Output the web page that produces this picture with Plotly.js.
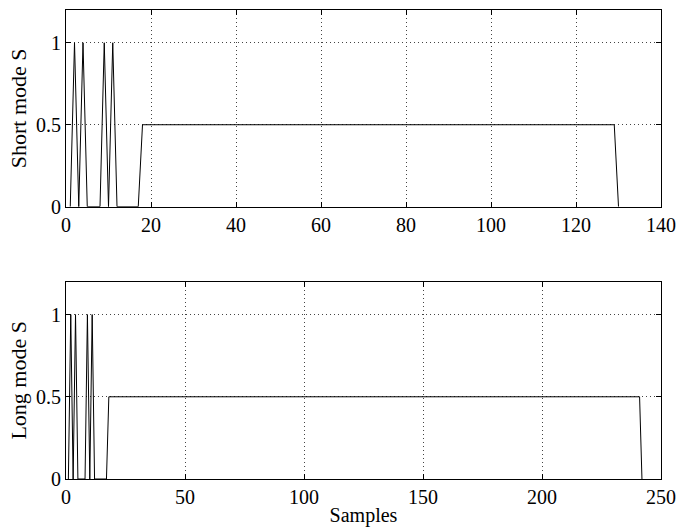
<!DOCTYPE html>
<html>
<head>
<meta charset="utf-8">
<script src="https://cdn.plot.ly/plotly-3.0.1.min.js"></script>
<style>html,body{margin:0;padding:0;background:#fff;}#chart{width:677px;height:529px;}</style>
</head>
<body>
<div id="chart"></div>
<script>
// Breakpoints of the piecewise-linear sample traces
var shortX = [1, 2, 3, 4, 5, 8, 9, 10, 11, 12, 17, 18, 129, 130];
var shortS = [0, 1, 0, 1, 0, 0, 1, 0, 1, 0, 0, 0.5, 0.5, 0];
var longX  = [1, 2, 3, 4, 5, 8, 9, 10, 11, 12, 17, 18, 241, 242];
var longS  = [0, 1, 0, 1, 0, 0, 1, 0, 1, 0, 0, 0.5, 0.5, 0];
var shortXTicks = [0, 20, 40, 60, 80, 100, 120, 140];
var longXTicks  = [0, 50, 100, 150, 200, 250];
var yTicks = [0, 0.5, 1];
var yTickText = ['0', '0.5', '1'];

var family = 'Liberation Serif, Times New Roman, serif';
var tickFont = {family: family, size: 20, color: '#000'};
var yTitleFont = {family: family, size: 22, color: '#000'};
var xTitleFont = {family: family, size: 20, color: '#000'};

function ax(extra) {
  var base = {
    showline: true, linecolor: '#000', linewidth: 1, mirror: 'ticks',
    ticks: 'inside', ticklen: 5, tickcolor: '#000', tickwidth: 1,
    showgrid: true, gridcolor: '#444', gridwidth: 1, griddash: '1px,3px',
    zeroline: false, tickfont: tickFont, fixedrange: true, ticklabelstandoff: 0
  };
  for (var k in extra) base[k] = extra[k];
  return base;
}

var traces = [
  {x: shortX, y: shortS, type: 'scatter', mode: 'lines', line: {color: '#000', width: 1}, xaxis: 'x', yaxis: 'y', showlegend: false, hoverinfo: 'skip'},
  {x: longX, y: longS, type: 'scatter', mode: 'lines', line: {color: '#000', width: 1}, xaxis: 'x2', yaxis: 'y2', showlegend: false, hoverinfo: 'skip'}
];

var layout = {
  width: 677, height: 529,
  margin: {l: 66, r: 16, t: 10, b: 50},
  paper_bgcolor: '#fff', plot_bgcolor: '#fff',
  font: tickFont,
  showlegend: false,
  xaxis: ax({domain: [0, 1], anchor: 'y', range: [0, 140], tickvals: shortXTicks, ticktext: shortXTicks.map(String)}),
  yaxis: ax({domain: [0.5806, 1], anchor: 'x', range: [0, 1.2], tickvals: yTicks, ticktext: yTickText,
             title: {text: 'Short mode S', font: yTitleFont, standoff: 3}}),
  xaxis2: ax({domain: [0, 1], anchor: 'y2', range: [0, 250], tickvals: longXTicks, ticktext: longXTicks.map(String),
              title: {text: 'Samples', font: xTitleFont, standoff: 0}}),
  yaxis2: ax({domain: [0, 0.4207], anchor: 'x2', range: [0, 1.2], tickvals: yTicks, ticktext: yTickText,
              title: {text: 'Long mode S', font: yTitleFont, standoff: 3}})
};

Plotly.newPlot('chart', traces, layout, {staticPlot: true, displayModeBar: false});
</script>
</body>
</html>
